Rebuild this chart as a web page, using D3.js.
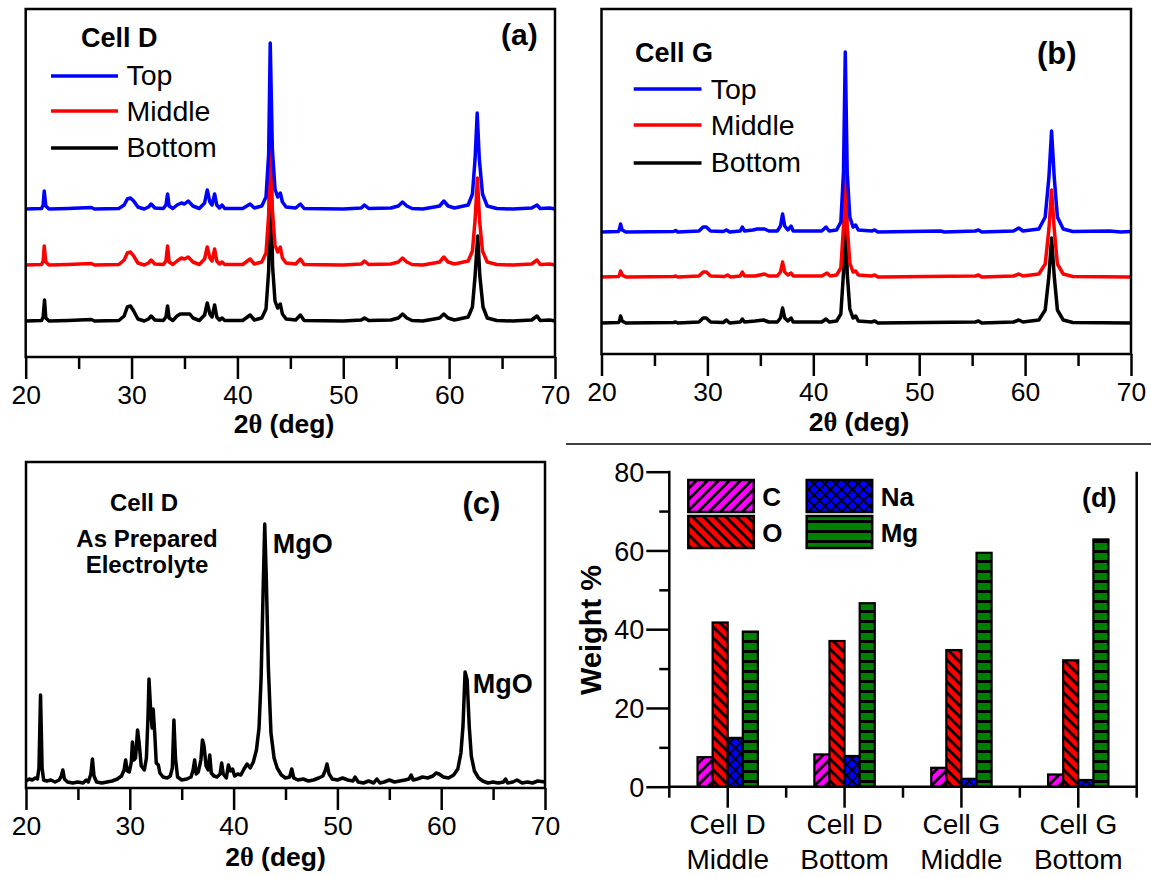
<!DOCTYPE html>
<html>
<head>
<meta charset="utf-8">
<script src="https://cdn.jsdelivr.net/npm/d3@7"></script>
<style>
  body { margin: 0; background: #fff; }
  svg { display: block; font-family: "Liberation Sans", Arial, sans-serif; }
</style>
</head>
<body>
<div id="chart"></div>
<script>
// ---------------- data ----------------
// XRD traces: [2theta, intensity above trace baseline]
let aTop = [[20,0],[21.5,0.5],[21.65,4],[21.75,18],[21.9,3],[22.2,0],[24,0.5],[26.2,1.5],[26.5,0],[28.8,0.5],[29.3,4],[29.6,10],[29.9,11],[30.2,8],[30.6,2],[31.2,0],[31.6,2],[31.85,5],[32.2,1],[33,0.5],[33.25,4],[33.4,15],[33.55,3],[33.9,0.5],[34.3,4],[34.7,6],[35,5],[35.35,8],[35.8,3],[36.4,0.5],[36.9,6],[37.15,19],[37.4,7],[37.6,4],[37.85,15],[38.05,4],[38.3,1],[38.55,4],[38.8,0.5],[40.5,0.5],[41.2,5],[41.6,1],[42.3,3],[42.7,12],[42.95,55],[43.1,166],[43.3,60],[43.55,20],[43.8,12],[44.05,16],[44.25,7],[44.6,2],[45.5,1],[45.95,5],[46.3,0.5],[50,0],[51.7,1],[52,4],[52.4,0.5],[54.5,1],[55.2,3],[55.6,7],[56,3],[56.5,0.5],[57.5,0],[58.6,2],[59.1,3],[59.5,8],[59.9,3],[60.5,1],[61.8,4],[62.2,15],[62.45,50],[62.65,96],[62.85,50],[63.15,15],[63.6,3],[64.5,0.5],[66,0],[67.8,1],[68.3,4],[68.6,0.5],[69.5,1],[70,0]];
let aMid = [[20,0],[21.5,0.5],[21.65,4],[21.75,19],[21.9,3],[22.2,0],[24,0.5],[26.2,1.5],[26.5,0],[28.8,0.5],[29.3,5],[29.6,12],[29.9,13],[30.2,9],[30.6,2],[31.2,0],[31.6,2],[31.85,5],[32.2,1],[33,0.5],[33.25,4],[33.4,19],[33.55,3],[33.9,0.5],[34.3,4],[34.7,7],[35,6],[35.35,8],[35.8,3],[36.4,0.5],[36.9,6],[37.15,18],[37.4,7],[37.6,4],[37.85,16],[38.05,4],[38.3,1],[38.55,3],[38.8,0.5],[40.5,0.5],[41.2,6],[41.6,1],[42.3,3],[42.7,12],[42.95,50],[43.12,150],[43.3,55],[43.55,20],[43.8,13],[44.05,18],[44.25,7],[44.6,2],[45.5,1],[45.95,6],[46.3,0.5],[50,0],[51.7,1],[52,4],[52.4,0.5],[54.5,1],[55.2,3],[55.6,7],[56,3],[56.5,0.5],[57.5,0],[58.6,2],[59.1,3],[59.5,8],[59.9,3],[60.5,1],[61.8,4],[62.2,14],[62.45,45],[62.67,87],[62.87,45],[63.15,14],[63.6,3],[64.5,0.5],[66,0],[67.8,1],[68.3,5],[68.6,0.5],[69.5,1],[70,0]];
let aBot = [[20,0],[21.5,0.5],[21.65,4],[21.78,21],[21.9,3],[22.2,0],[24,0.5],[26.2,1.5],[26.5,0],[28.8,0.5],[29.3,5],[29.6,14],[29.9,15],[30.2,10],[30.6,2],[31.2,0],[31.6,2],[31.85,5],[32.2,1],[33,0.5],[33.25,4],[33.4,15],[33.55,3],[33.9,0.5],[34.3,5],[34.6,7],[35.5,7],[35.8,3],[36.4,0.5],[36.9,6],[37.15,18],[37.4,7],[37.6,4],[37.85,16],[38.05,4],[38.3,1],[38.55,3],[38.8,0.5],[40.5,0.5],[41.2,6],[41.6,1],[42.3,3],[42.7,12],[42.95,50],[43.15,145],[43.32,55],[43.55,20],[43.8,13],[44.05,17],[44.25,7],[44.6,2],[45.5,1],[45.95,6],[46.3,0.5],[50,0],[51.7,1],[52,3],[52.4,0.5],[54.5,1],[55.2,3],[55.6,7],[56,3],[56.5,0.5],[57.5,0],[58.6,2],[59.1,3],[59.5,7],[59.9,3],[60.5,1],[61.8,4],[62.2,14],[62.45,45],[62.7,85],[62.9,45],[63.2,14],[63.6,3],[64.5,0.5],[66,0],[67.8,1],[68.3,5],[68.6,0.5],[69.5,1],[70,0]];

let bTop = [[20,0],[21.6,0.5],[21.7,3],[21.8,8],[21.95,2],[22.3,0],[26.8,0.5],[27,1.5],[27.2,0],[29.2,1],[29.6,5],[29.9,5],[30.3,1],[31.5,0.5],[31.8,2],[32.1,0],[33.1,1],[33.3,5],[33.5,1],[34.3,2],[34.7,3],[35.4,3],[35.8,1],[36.6,1],[36.9,6],[37.1,18],[37.3,6],[37.6,2],[37.9,6],[38.1,1],[38.5,1],[40.8,1],[41.2,5],[41.5,1],[42.2,2],[42.6,10],[42.85,60],[43.02,180],[43.2,60],[43.45,15],[43.75,5],[44,7],[44.25,2],[45.5,1],[45.8,2],[46.1,0],[52,1],[52.4,0],[55.3,1],[55.6,2],[55.9,0],[58.9,1],[59.4,4],[59.8,1],[61.3,3],[61.9,15],[62.25,55],[62.5,101],[62.75,55],[63.05,15],[63.6,3],[64.5,0.5],[68,1],[69,0],[70,0.5]];
let bMid = [[20,0],[21.6,0.5],[21.7,2],[21.8,6],[21.95,2],[22.3,0],[26.8,0.5],[27,1],[27.2,0],[29.2,1],[29.6,5],[29.9,5],[30.3,1],[31.6,0.5],[31.9,2],[32.2,0],[33.1,1],[33.3,5],[33.5,1],[34.5,1],[35.4,3],[35.8,1],[36.6,1],[36.9,5],[37.1,15],[37.3,5],[37.6,2],[37.9,4],[38.1,1],[38.5,1],[40.8,1],[41.3,4],[41.6,1],[42.2,2],[42.6,9],[42.85,50],[43.02,155],[43.2,52],[43.45,14],[43.75,5],[44,6],[44.25,2],[45.5,1],[45.8,2],[46.1,0],[55.3,1],[55.6,2],[55.9,0],[58.9,1],[59.4,3],[59.8,1],[61.3,3],[61.9,13],[62.25,48],[62.5,87],[62.75,48],[63.05,13],[63.6,3],[64.5,0.5],[70,0]];
let bBot = [[20,0],[21.6,0.5],[21.7,2],[21.8,7],[21.95,2],[22.3,0],[26.8,0.5],[27,1],[27.2,0],[29.2,1],[29.6,5],[29.9,5],[30.3,1],[31.5,0.5],[31.8,3],[32.1,0],[33.1,1],[33.3,4],[33.5,1],[34.5,2],[35.3,3],[35.8,1],[36.6,1],[36.9,5],[37.1,15],[37.3,5],[37.6,2],[37.9,5],[38.1,1],[38.5,1],[40.8,1],[41.2,4],[41.5,1],[42.2,2],[42.6,9],[42.85,50],[43.02,150],[43.2,50],[43.45,14],[43.75,5],[44,7],[44.25,2],[45.5,1],[45.8,2],[46.1,0],[55.3,1],[55.6,2],[55.9,0],[58.9,1],[59.4,3],[59.8,1],[61.3,3],[61.9,13],[62.25,47],[62.5,85],[62.75,47],[63.05,13],[63.6,3],[64.5,0.5],[70,0]];

let cPrep = [[20,7],[20.3,9],[20.6,8],[20.9,10],[21.1,9],[21.25,20],[21.4,93],[21.55,20],[21.7,8],[22,7],[22.4,8],[22.8,6],[23.2,8],[23.4,12],[23.55,18],[23.7,9],[24,6],[24.5,5],[25,6],[25.5,5],[25.8,8],[26,6],[26.25,14],[26.4,29],[26.55,12],[26.8,6],[27.3,5],[27.8,6],[28.3,7],[28.8,9],[29.2,12],[29.45,18],[29.6,28],[29.75,17],[29.95,16],[30.15,26],[30.25,46],[30.4,28],[30.55,30],[30.75,58],[30.9,45],[31.1,22],[31.4,18],[31.6,30],[31.75,70],[31.85,109],[32,80],[32.15,60],[32.25,79],[32.4,55],[32.55,25],[32.75,23],[32.9,15],[33.2,11],[33.6,10],[33.9,12],[34.1,20],[34.25,68],[34.4,30],[34.6,11],[35,8],[35.5,9],[35.9,11],[36.1,18],[36.25,28],[36.4,14],[36.6,16],[36.85,28],[37,48],[37.15,42],[37.35,22],[37.55,18],[37.7,33],[37.85,15],[38.1,12],[38.4,11],[38.7,14],[38.85,25],[39,14],[39.3,10],[39.5,23],[39.7,17],[39.9,19],[40.1,12],[40.4,14],[40.7,13],[41,19],[41.3,24],[41.6,20],[41.9,26],[42.2,38],[42.45,60],[42.65,110],[42.85,200],[43,264],[43.15,210],[43.35,120],[43.6,55],[43.9,30],[44.2,20],[44.6,13],[45,10],[45.4,11],[45.6,19],[45.8,10],[46.2,8],[46.7,9],[47.2,7],[47.7,8],[48.2,10],[48.6,12],[48.85,18],[49,24],[49.2,14],[49.5,9],[50,8],[50.5,10],[51,8],[51.5,7],[51.7,11],[52,6],[52.5,5],[53,7],[53.5,5],[53.8,9],[54.1,5],[54.5,6],[55,8],[55.5,6],[56,7],[56.5,8],[56.9,9],[57.1,13],[57.3,8],[57.7,9],[58.2,11],[58.7,10],[59.2,12],[59.5,15],[59.8,14],[60.2,11],[60.7,10],[61.2,13],[61.6,19],[61.9,35],[62.1,62],[62.3,116],[62.5,108],[62.7,62],[62.9,32],[63.2,17],[63.6,10],[64,7],[64.5,5],[65,6],[65.5,5],[66,6],[66.2,9],[66.4,5],[66.9,6],[67.3,8],[67.8,5],[68.3,6],[68.8,5],[69.3,7],[70,6]];

let xMajor = [20, 30, 40, 50, 60, 70];
let xMinor = [25, 35, 45, 55, 65];
let seriesNames = ["Top", "Middle", "Bottom"];
let seriesColors = ["#0000ff", "#ff0000", "#000000"];

// EDS weight %
let categories = ["Cell D Middle", "Cell D Bottom", "Cell G Middle", "Cell G Bottom"];
let elements = ["C", "O", "Na", "Mg"];
let wC  = [7.5, 8.2, 4.8, 3.1];
let wO  = [41.7, 37.0, 34.7, 32.1];
let wNa = [12.4, 7.8, 2.0, 1.7];
let wMg = [39.4, 46.6, 59.4, 62.8];
let yMajor = [0, 20, 40, 60, 80];
let yMinor = [10, 30, 50, 70];

// ---------------- drawing ----------------
let svg = d3.select("#chart").append("svg")
  .attr("width", 1151)
  .attr("height", 878);

svg.append("rect").attr("width", 1151).attr("height", 878).attr("fill", "#fff");

// patterns for the bars
let defs = svg.append("defs");
function makePattern(id, fill, size, d, sw) {
  let p = defs.append("pattern")
    .attr("id", id)
    .attr("patternUnits", "userSpaceOnUse")
    .attr("width", size).attr("height", size);
  p.append("rect").attr("width", size).attr("height", size).attr("fill", fill);
  p.append("path").attr("d", d).attr("stroke", "#000").attr("stroke-width", sw).attr("fill", "none");
}
makePattern("patC", "#ff00ff", 11, "M0,11 L11,0 M-3,3 L3,-3 M8,14 L14,8", 2.8);
makePattern("patO", "#ff0000", 11, "M0,0 L11,11 M-3,8 L3,14 M8,-3 L14,3", 2.8);
makePattern("patNa", "#0000ff", 11, "M0,0 L11,11 M0,11 L11,0 M-3,8 L3,14 M8,-3 L14,3 M-3,3 L3,-3 M8,14 L14,8", 1.8);
makePattern("patMg", "#008000", 10, "M0,1.5 L10,1.5", 3);

let patFor = { C: "url(#patC)", O: "url(#patO)", Na: "url(#patNa)", Mg: "url(#patMg)" };

// draws one XRD panel
function xrdPanel(cfg) {
  let g = svg.append("g");
  let x = d3.scaleLinear().domain([20, 70]).range([cfg.left, cfg.right]);
  let y = d3.scaleLinear().domain([0, cfg.ymax]).range([cfg.bottom, cfg.top]);

  let line = d3.line()
    .x(d => x(d[0]))
    .y(d => y(d[1] + d.off));

  cfg.traces.forEach(t => {
    let pts = t.data.map(d => { let p = [d[0], d[1]]; p.off = t.off; return p; });
    g.append("path")
      .attr("d", line(pts))
      .attr("fill", "none")
      .attr("stroke", t.color)
      .attr("stroke-width", 3.5)
      .attr("stroke-linejoin", "round");
  });

  // frame
  g.append("rect")
    .attr("x", cfg.left).attr("y", cfg.top)
    .attr("width", cfg.right - cfg.left).attr("height", cfg.bottom - cfg.top)
    .attr("fill", "none").attr("stroke", "#000").attr("stroke-width", 2.5);

  let ax = g.append("g").attr("transform", `translate(0,${cfg.bottom})`)
    .call(d3.axisBottom(x).tickValues(xMajor).tickSize(22).tickFormat(d3.format("d")));
  let axm = g.append("g").attr("transform", `translate(0,${cfg.bottom})`)
    .call(d3.axisBottom(x).tickValues(xMinor).tickSize(12).tickFormat(""));
  [ax, axm].forEach(a => {
    a.select(".domain").remove();
    a.selectAll("line").attr("stroke", "#000").attr("stroke-width", 2.5);
  });
  ax.selectAll("text")
    .attr("y", 47).attr("dy", 0)
    .attr("fill", "#000")
    .style("font-size", "26.5px")
    .style("font-family", "Liberation Sans, Arial, sans-serif");

  let title = g.append("text")
    .attr("x", cfg.titleX).attr("y", cfg.titleY)
    .attr("text-anchor", "middle")
    .style("font-size", "26.5px").style("font-weight", "bold");
  title.append("tspan").text("2");
  title.append("tspan").style("font-family", "Liberation Serif, Times New Roman, serif").text("θ");
  title.append("tspan").text(" (deg)");
  return g;
}

function label(txt, x, y, size, bold, anchor) {
  return svg.append("text")
    .attr("x", x).attr("y", y)
    .attr("text-anchor", anchor || "start")
    .style("font-size", size + "px")
    .style("font-weight", bold ? "bold" : "normal")
    .text(txt);
}

function xrdLegend(x0, x1, tx, lineYs, textYs) {
  seriesNames.forEach((n, i) => {
    svg.append("line")
      .attr("x1", x0).attr("x2", x1)
      .attr("y1", lineYs[i]).attr("y2", lineYs[i])
      .attr("stroke", seriesColors[i]).attr("stroke-width", 3.5);
    label(n, tx, textYs[i], 28.5, false);
  });
}

// (a)
xrdPanel({
  left: 25.7, right: 555, top: 9, bottom: 357, ymax: 348,
  titleX: 284, titleY: 433,
  traces: [
    { data: aBot, off: 36, color: seriesColors[2] },
    { data: aMid, off: 92, color: seriesColors[1] },
    { data: aTop, off: 148, color: seriesColors[0] }
  ]
});
label("Cell D", 81, 47, 27, true);
label("(a)", 501, 45, 30, true);
xrdLegend(51, 118, 126.5, [76, 111, 148], [85, 121, 157]);

// (b)
xrdPanel({
  left: 601.5, right: 1131, top: 9, bottom: 354, ymax: 345,
  titleX: 859, titleY: 431,
  traces: [
    { data: bBot, off: 31, color: seriesColors[2] },
    { data: bMid, off: 77, color: seriesColors[1] },
    { data: bTop, off: 122, color: seriesColors[0] }
  ]
});
label("Cell G", 635, 62, 27, true);
label("(b)", 1037, 64, 31, true);
xrdLegend(633.7, 701.5, 710.7, [89, 125, 163], [99, 135, 172]);

// separator between rows
svg.append("line").attr("x1", 566).attr("x2", 1151).attr("y1", 444).attr("y2", 444)
  .attr("stroke", "#000").attr("stroke-width", 1.5);

// (c)
xrdPanel({
  left: 26, right: 545, top: 462, bottom: 788, ymax: 326,
  titleX: 275.5, titleY: 866,
  traces: [{ data: cPrep, off: 0, color: "#000" }]
});
label("Cell D", 144, 511, 24, true, "middle");
label("As Prepared", 147, 547, 24, true, "middle");
label("Electrolyte", 147, 573, 24, true, "middle");
label("MgO", 272.7, 553, 27, true);
label("MgO", 472.7, 693, 27, true);
label("(c)", 462.5, 514, 31, true);

// (d) grouped bars
let weights = { C: wC, O: wO, Na: wNa, Mg: wMg };
let barData = categories.map((c, i) => ({ cat: c, vals: elements.map(e => ({ el: e, v: weights[e][i] })) }));

let dL = 669.3, dR = 1136.7, dT = 471.7, dB = 786.7;
let x0 = d3.scaleBand().domain(categories).range([dL, dR]);
let groupW = 60.4;
let x1 = d3.scaleBand().domain(elements)
  .range([(x0.bandwidth() - groupW) / 2, (x0.bandwidth() + groupW) / 2]);
let yd = d3.scaleLinear().domain([0, 80]).range([dB, dT]);

let dg = svg.append("g");
dg.selectAll("g.grp")
  .data(barData)
  .enter().append("g")
  .attr("class", "grp")
  .attr("transform", d => `translate(${x0(d.cat)},0)`)
  .selectAll("rect")
  .data(d => d.vals)
  .enter().append("rect")
  .attr("x", d => x1(d.el))
  .attr("y", d => yd(d.v))
  .attr("width", x1.bandwidth())
  .attr("height", d => dB - yd(d.v))
  .attr("fill", d => patFor[d.el])
  .attr("stroke", "#000")
  .attr("stroke-width", 2.2);

// y axis
let yAx = dg.append("g").attr("transform", `translate(${dL},0)`)
  .call(d3.axisLeft(yd).tickValues(yMajor).tickSize(23).tickFormat(d3.format("d")));
let yAxm = dg.append("g").attr("transform", `translate(${dL},0)`)
  .call(d3.axisLeft(yd).tickValues(yMinor).tickSize(10).tickFormat(""));
[yAx, yAxm].forEach(a => {
  a.select(".domain").remove();
  a.selectAll("line").attr("stroke", "#000").attr("stroke-width", 2.5);
});
yAx.selectAll("text")
  .attr("x", -25).attr("dy", "0.36em")
  .attr("fill", "#000")
  .style("font-size", "27px");

// axis lines: left, right, bottom
dg.append("path")
  .attr("d", `M${dL},${dT - 1} L${dL},${dB} L${dR},${dB} L${dR},${dT}`)
  .attr("fill", "none").attr("stroke", "#000").attr("stroke-width", 2.5);

// bottom ticks: short at band edges, long at band centres
let edges = categories.map(c => x0(c)).concat([dR]);
dg.selectAll("line.edge").data(edges).enter().append("line")
  .attr("class", "edge")
  .attr("x1", d => d).attr("x2", d => d)
  .attr("y1", dB).attr("y2", dB + 11)
  .attr("stroke", "#000").attr("stroke-width", 2.5);
dg.selectAll("line.mid").data(categories).enter().append("line")
  .attr("class", "mid")
  .attr("x1", d => x0(d) + x0.bandwidth() / 2).attr("x2", d => x0(d) + x0.bandwidth() / 2)
  .attr("y1", dB).attr("y2", dB + 21)
  .attr("stroke", "#000").attr("stroke-width", 2.5);

categories.forEach(c => {
  let k = c.lastIndexOf(" ");
  let cx = x0(c) + x0.bandwidth() / 2;
  label(c.slice(0, k), cx, 834, 28, false, "middle");
  label(c.slice(k + 1), cx, 869, 28, false, "middle");
});

svg.append("text")
  .attr("transform", "translate(601,630) rotate(-90)")
  .attr("text-anchor", "middle")
  .style("font-size", "29px").style("font-weight", "bold")
  .text("Weight %");

label("(d)", 1082, 507, 27, true);

// legend of (d)
let legPos = [
  { el: "C", x: 688.3, y: 480 },
  { el: "O", x: 688.3, y: 516 },
  { el: "Na", x: 806.7, y: 480 },
  { el: "Mg", x: 806.7, y: 516 }
];
legPos.forEach(p => {
  svg.append("rect")
    .attr("x", p.x).attr("y", p.y)
    .attr("width", 65.5).attr("height", 32)
    .attr("fill", patFor[p.el])
    .attr("stroke", "#000").attr("stroke-width", 2.5);
  label(p.el, p.x + 74, p.y + 26, 26, true);
});
</script>
</body>
</html>
